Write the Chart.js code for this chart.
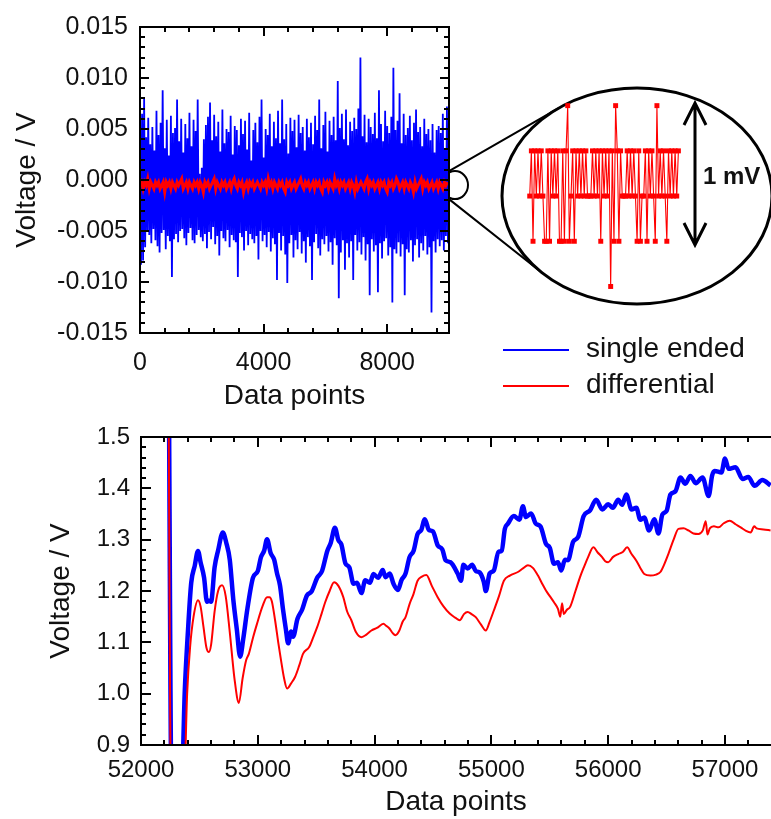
<!DOCTYPE html>
<html lang="en">
<head>
<meta charset="UTF-8">
<title>Single ended vs differential</title>
<style>
  html, body { margin: 0; padding: 0; background: #fff; }
  body { position: relative; width: 771px; height: 819px; overflow: hidden; font-family: "Liberation Sans", Arial, sans-serif; color: #111; }
  canvas { position: absolute; }
  #noiseChart { left: 0; top: 0; }
  #insetChart { left: 520px; top: 90px; }
  #driftChart { left: 0; top: 410px; }
  .key { position: absolute; left: 503px; height: 34px; line-height: 34px; font-size: 28px; white-space: nowrap; }
  .key span { display: inline-block; width: 66px; height: 2px; margin-right: 17px; vertical-align: middle; }
  #mv { position: absolute; left: 703px; top: 161px; line-height: 30px; font-size: 24px; font-weight: bold; }
</style>
<script src="https://cdn.jsdelivr.net/npm/chart.js"></script>
</head>
<body>
<canvas id="noiseChart" width="771" height="410"></canvas>
<canvas id="insetChart" width="170" height="215"></canvas>
<canvas id="driftChart" width="771" height="409"></canvas>
<div id="mv">1 mV</div>

<script>
  Chart.defaults.font.family = '"Liberation Sans", Arial, sans-serif';
  Chart.defaults.color = '#111';

  const seriesNames = ['single ended', 'differential'];
  const seriesColors = ['#0000ff', '#ff0000'];

  // top panel: baseline noise over 10000 samples (values in mV)
  const noiseSe = [
    5.8,-8.3,6.5,-7.9,8.0,-6.6,4.2,-5.1,6.1,-5.4,
    3.5,-6.2,5.2,-4.8,2.9,-5.9,6.8,-6.5,4.4,-7.1,
    5.6,-5.2,8.8,-4.9,3.1,-6.8,5.9,-5.5,2.4,-6.0,
    6.3,-9.5,4.6,-5.8,5.1,-5.3,7.9,-6.1,3.8,-5.0,
    6.0,-4.8,2.7,-5.7,5.5,-6.4,4.1,-5.2,6.6,-4.7,
    3.3,-5.9,5.9,-6.2,4.8,-5.4,7.9,-4.9,0.6,-5.6,
    1.2,-6.0,4.0,-5.3,5.4,-6.7,6.2,-5.1,7.6,-5.8,
    3.9,-4.6,6.4,-6.3,4.3,-5.5,5.7,-7.4,2.8,-5.0,
    6.9,-5.7,3.6,-6.0,5.0,-4.9,4.7,-6.6,6.3,-5.4,
    2.5,-5.9,5.3,-6.1,4.9,-9.5,3.4,-5.2,6.0,-5.6,
    4.5,-6.9,5.8,-5.0,3.0,-6.4,6.6,-5.3,1.9,-5.8,
    4.9,-6.2,5.6,-5.5,3.7,-7.8,6.2,-5.0,7.9,-6.0,
    2.2,-5.4,5.0,-6.6,4.4,-5.1,6.5,-7.0,3.3,-5.7,
    5.7,-6.3,4.1,-9.8,6.8,-5.2,3.6,-6.9,7.9,-5.5,
    4.0,-7.3,5.5,-10.1,2.6,-6.2,6.1,-5.4,4.8,-7.6,
    5.9,-5.9,3.2,-6.8,6.4,-5.1,4.6,-7.2,5.2,-6.0,
    2.9,-8.1,6.0,-5.6,4.2,-6.5,5.6,-9.8,3.5,-6.1,
    6.3,-5.3,4.9,-6.7,7.9,-7.4,3.1,-5.8,5.4,-6.3,
    6.7,-5.5,2.8,-7.0,5.8,-6.1,4.4,-8.3,6.2,-5.7,
    3.9,-6.4,9.7,-11.6,5.1,-7.1,6.5,-5.9,4.0,-8.8,
    6.9,-6.2,3.4,-7.6,5.7,-6.0,4.8,-9.8,6.1,-5.4,
    5.0,-6.9,7.0,-6.1,12.0,-7.3,4.3,-5.6,6.4,-7.9,
    3.7,-6.3,6.0,-11.3,5.2,-5.8,4.5,-7.0,6.6,-6.4,
    4.1,-11.0,8.8,-6.2,5.5,-7.7,3.8,-6.0,6.8,-5.7,
    5.3,-7.4,4.6,-6.6,6.2,-12.0,11.0,-6.8,4.9,-7.2,
    5.8,-6.1,8.5,-7.5,3.6,-6.3,6.5,-11.3,4.4,-6.8,
    5.1,-7.1,6.3,-5.9,3.9,-8.0,5.6,-6.4,6.9,-5.8,
    4.7,-7.6,5.2,-6.2,3.3,-6.9,6.0,-5.5,4.5,-7.3,
    5.0,-6.6,3.9,-13.0,5.5,-6.0,2.7,-7.1,4.9,-5.8,
    5.3,-6.5,4.6,-5.9,6.5,-6.9,3.0,-5.5,7.2,-6.2
  ];
  const noiseDiff = [
    -0.53,-0.2,-0.86,-0.2,-0.53,0.13,-0.86,-0.2,-0.53,-0.86,
    -0.2,-0.53,-0.2,-0.86,-0.53,-0.2,-1.19,-0.2,-0.53,-0.2,
    -0.86,-0.2,-0.53,-0.86,-0.2,-0.53,-0.2,0.13,-0.86,-0.53,
    -0.2,-0.86,-0.2,-0.53,-0.86,-0.2,-0.53,-0.2,-0.86,-0.2,
    -0.53,-1.19,-0.2,-0.53,-0.2,-0.86,-0.53,-0.2,0.13,-0.86,
    -0.2,-0.53,-0.86,-0.2,-0.53,-0.2,-0.86,-0.53,-0.2,-0.86,
    -0.2,0.13,-0.53,-0.86,-0.2,-0.53,-0.2,-1.19,-0.53,-0.2,
    -0.86,-0.2,-0.53,-0.2,-0.86,-0.53,-0.2,-0.53,-0.86,-0.2,
    -0.53,-0.2,-0.86,0.13,-0.53,-0.2,-0.86,-0.2,-0.53,-0.86,
    -0.2,-0.53,-0.2,-0.86,-1.19,-0.2,-0.53,-0.2,-0.86,-0.53,
    -0.2,-0.86,-0.53,-0.2,0.13,-0.53,-0.86,-0.2,-0.53,-0.2,
    -0.86,-0.53,-0.2,-0.86,-0.2,-0.53,-0.2,-0.86,-1.19,-0.2,
    -0.53,-0.2,-0.86,-0.2,-0.53,-0.86,0.13,-0.53,-0.2,-0.86,
    -0.2,-0.53,-0.2,-0.86,-0.53,-0.2,-0.86,-0.2,-0.53,-1.19,
    -0.2,-0.86,-0.53,-0.2,-0.53,-0.86,-0.2,0.13,-0.86,-0.2,
    -0.53,-0.2,-0.86,-0.53,-0.2,-0.86,-0.2,-0.53,-0.2,-0.86,
    -1.19,-0.2,-0.53,-0.2,-0.86,-0.53,0.13,-0.2,-0.86,-0.53,
    -0.2,-0.86,-0.2,-0.53,-0.86,-0.2,-0.53,-1.19,-0.2,-0.86,
    -0.53,-0.2,0.13,-0.86,-0.2,-0.53,-0.2,-0.86,-0.53,-0.2,
    -0.86,-0.53,-0.2,-0.86,-0.2,-0.53,-0.86,-0.2,-0.53,-0.2
  ];
  const noiseSamples = 10000;
  const noiseXTicks = [0, 4000, 8000];
  const noiseXLabels = ['0', '4000', '8000'];
  const noiseYTicks = [-15, -10, -5, 0, 5, 10, 15];
  const noiseYLabels = ['-0.015', '-0.010', '-0.005', '0.000', '0.005', '0.010', '0.015'];

  // magnified stretch at the end of the differential trace (mV)
  const insetMv = [
    -0.53,-0.2,-0.86,-0.2,-0.53,-0.2,-0.53,-0.2,-0.53,-0.86,
    -0.86,-0.2,-0.86,-0.2,-0.53,-0.2,-0.53,-0.2,-0.86,-0.86,
    -0.2,-0.86,-0.2,0.13,-0.86,-0.53,-0.2,-0.86,-0.2,-0.53,
    -0.2,-0.53,-0.2,-0.53,-0.2,-0.53,-0.53,-0.53,-0.2,-0.53,
    -0.2,-0.53,-0.2,-0.86,-0.2,-0.53,-0.2,-0.53,-0.2,-1.19,
    -0.2,-0.86,0.13,-0.2,-0.86,-0.2,-0.53,-0.53,-0.53,-0.2,
    -0.53,-0.2,-0.53,-0.2,-0.53,-0.86,-0.2,-0.86,-0.53,-0.53,
    -0.2,-0.86,-0.2,-0.53,-0.2,-0.53,-0.86,0.13,-0.53,-0.2,
    -0.53,-0.2,-0.53,-0.86,-0.2,-0.53,-0.2,-0.53,-0.2,-0.53,
    -0.2
  ];

  // bottom panel: drift after start-up (V)
  const driftSeX = [
    52238,52262,52345,52375,52400,52430,52460,52488,52510,52540,
    52565,52581,52600,52630,52660,52701,52730,52760,52790,52820,
    52849,52875,52910,52959,53000,53027,53055,53079,53110,53140,
    53165,53190,53216,53240,53260,53285,53302,53340,53380,53420,
    53460,53509,53550,53595,53625,53660,53690,53715,53750,53784,
    53820,53850,53887,53920,53960,53990,54030,54070,54093,54130,
    54162,54200,54230,54265,54299,54335,54368,54400,54430,54465,
    54500,54540,54580,54608,54650,54711,54740,54760,54797,54835,
    54866,54900,54935,54952,54985,55021,55060,55089,55115,55141,
    55192,55240,55270,55296,55340,55381,55420,55467,55500,55536,
    55570,55598,55630,55656,55700,55742,55790,55845,55897,55950,
    56000,56040,56086,56120,56155,56200,56241,56275,56309,56350,
    56395,56430,56464,56500,56533,56575,56619,56660,56704,56750,
    56808,56860,56890,56911,56970,57000,57031,57090,57151,57200,
    57254,57320,57390
  ];
  const driftSeV = [
    1.62,0.80,0.80,1.006,1.114,1.216,1.249,1.278,1.256,1.226,
    1.179,1.181,1.179,1.246,1.279,1.314,1.294,1.261,1.184,1.126,
    1.072,1.106,1.164,1.226,1.239,1.266,1.279,1.301,1.274,1.261,
    1.234,1.211,1.164,1.126,1.098,1.121,1.111,1.146,1.164,1.191,
    1.199,1.226,1.239,1.278,1.294,1.323,1.299,1.291,1.254,1.246,
    1.214,1.216,1.196,1.221,1.216,1.233,1.226,1.241,1.227,1.234,
    1.214,1.202,1.221,1.234,1.266,1.279,1.311,1.319,1.340,1.319,
    1.316,1.289,1.281,1.260,1.256,1.234,1.220,1.251,1.244,1.251,
    1.239,1.236,1.218,1.200,1.234,1.240,1.276,1.279,1.321,1.331,
    1.346,1.339,1.365,1.344,1.351,1.331,1.326,1.292,1.284,1.253,
    1.256,1.240,1.261,1.260,1.296,1.305,1.346,1.357,1.378,1.359,
    1.369,1.362,1.378,1.368,1.388,1.359,1.362,1.339,1.343,1.318,
    1.340,1.312,1.349,1.356,1.388,1.394,1.421,1.409,1.424,1.410,
    1.421,1.385,1.425,1.434,1.431,1.458,1.438,1.441,1.418,1.422,
    1.405,1.416,1.406
  ];
  const driftDiffX = [
    52235,52258,52365,52395,52420,52450,52488,52510,52535,52560,
    52581,52600,52630,52660,52694,52725,52760,52800,52838,52870,
    52900,52924,52960,52993,53040,53079,53100,53120,53148,53175,
    53199,53225,53251,53285,53320,53355,53388,53440,53475,53509,
    53545,53577,53615,53653,53690,53732,53765,53801,53840,53887,
    53930,53973,54020,54076,54100,54127,54155,54179,54210,54240,
    54265,54300,54333,54368,54405,54443,54490,54540,54590,54643,
    54690,54729,54765,54797,54830,54866,54910,54952,54985,55021,
    55065,55107,55158,55227,55270,55313,55355,55399,55440,55467,
    55500,55536,55570,55590,55605,55620,55645,55674,55720,55759,
    55795,55828,55873,55910,55948,55975,56000,56040,56086,56125,
    56162,56200,56241,56275,56309,56361,56410,56447,56480,56515,
    56560,56601,56645,56687,56730,56773,56810,56835,56850,56870,
    56905,56945,56990,57041,57090,57134,57180,57220,57250,57271,
    57330,57390
  ];
  const driftDiffV = [
    1.62,0.80,0.80,1.00,1.09,1.15,1.182,1.17,1.13,1.09,
    1.081,1.095,1.16,1.20,1.211,1.19,1.12,1.03,0.982,1.03,
    1.065,1.078,1.11,1.136,1.17,1.188,1.188,1.18,1.143,1.10,
    1.065,1.03,1.010,1.02,1.033,1.055,1.078,1.091,1.11,1.130,
    1.155,1.178,1.20,1.217,1.21,1.188,1.16,1.143,1.12,1.110,
    1.115,1.123,1.128,1.136,1.132,1.127,1.118,1.114,1.122,1.14,
    1.149,1.175,1.194,1.220,1.228,1.231,1.21,1.188,1.17,1.156,
    1.148,1.143,1.155,1.159,1.155,1.149,1.135,1.123,1.14,1.162,
    1.19,1.220,1.230,1.237,1.244,1.250,1.245,1.230,1.212,1.201,
    1.19,1.178,1.165,1.150,1.176,1.155,1.163,1.169,1.20,1.227,
    1.248,1.266,1.285,1.275,1.266,1.258,1.256,1.266,1.272,1.276,
    1.285,1.272,1.259,1.245,1.233,1.230,1.232,1.237,1.252,1.272,
    1.30,1.321,1.322,1.318,1.312,1.311,1.318,1.336,1.31,1.322,
    1.326,1.324,1.332,1.337,1.330,1.324,1.317,1.314,1.326,1.322,
    1.320,1.318
  ];
  const driftXTicks = [52000, 53000, 54000, 55000, 56000, 57000];
  const driftXLabels = ['52000', '53000', '54000', '55000', '56000', '57000'];
  const driftYTicks = [0.9, 1.0, 1.1, 1.2, 1.3, 1.4, 1.5];
  const driftYLabels = ['0.9', '1.0', '1.1', '1.2', '1.3', '1.4', '1.5'];

  // minor tick positions
  function every(from, to, step) {
    const out = [];
    for (let v = from; v <= to + 1e-9; v += step) out.push(+v.toFixed(4));
    return out;
  }

  const indexPoints = (ys, total) => ys.map((y, i) => ({ x: i * total / ys.length, y }));
  const pairPoints = (xs, ys) => xs.map((x, i) => ({ x, y: ys[i] }));

  function axis(o) {
    return {
      type: 'linear',
      min: o.min,
      max: o.max,
      grid: { display: false, drawTicks: false },
      border: { display: false },
      afterBuildTicks: s => { s.ticks = o.ticks.map(v => ({ value: v })); },
      afterFit: s => {
        if (o.width) s.width = o.width;
        if (o.height) s.height = o.height;
      },
      ticks: {
        autoSkip: false, maxRotation: 0, padding: o.pad,
        font: { size: o.tickSize }, color: '#111',
        callback: (v, i) => o.labels[i]
      },
      title: {
        display: true, text: o.title, color: '#111',
        font: { size: 28, lineHeight: 1 }, padding: o.titlePad
      }
    };
  }

  // box with inward ticks, painted after everything else
  function framePlugin(o) {
    return {
      id: 'boxTicks',
      afterDraw(chart) {
        const ctx = chart.ctx;
        const a = chart.chartArea;
        const xs = chart.scales.x, ys = chart.scales.y;
        const L = Math.round(a.left), T = Math.round(a.top), B = Math.round(a.bottom);
        const R = o.right ? Math.round(a.right) : chart.width + 4;
        const xPix = v => a.left + (v - xs.min) / (xs.max - xs.min) * (a.right - a.left);
        const yPix = v => a.bottom - (v - ys.min) / (ys.max - ys.min) * (a.bottom - a.top);
        ctx.save();
        ctx.fillStyle = '#000000';
        const rects = [];
        for (const [list, len] of [[o.xMinor, o.minor], [o.xMajor, o.major]]) {
          for (let i = 0; i < list.length; i++) {
            const p = Math.round(xPix(list[i]));
            if (p < L - 1 || p > R + 1) continue;
            rects.push([p - 1, B - len, 2, len], [p - 1, T, 2, len]);
          }
        }
        for (const [list, len] of [[o.yMinor, o.minor], [o.yMajor, o.major]]) {
          for (let i = 0; i < list.length; i++) {
            const p = Math.round(yPix(list[i]));
            rects.push([L, p - 1, len, 2]);
            if (o.right) rects.push([R - len, p - 1, len, 2]);
          }
        }
        rects.push([L - 1, T - 1, R - L + 2, 2], [L - 1, B - 1, R - L + 2, 2], [L - 1, T - 1, 2, B - T + 2]);
        if (o.right) rects.push([R - 1, T - 1, 2, B - T + 2]);
        rects.forEach(r => ctx.fillRect(r[0], r[1], r[2], r[3]));
        ctx.restore();
      }
    };
  }

  // magnifier: small ellipse on the trace, big ellipse, joining lines, 1 mV arrow
  const bigEllipse = { x: 637, y: 196, rx: 135, ry: 108 };

  function tangentPoint(e, px, py, upper) {
    const u = (px - e.x) / e.rx, v = (py - e.y) / e.ry;
    const d = Math.hypot(u, v), ang = Math.atan2(v, u), b = Math.acos(1 / d);
    const pts = [ang + b, ang - b].map(t => ({ x: e.x + e.rx * Math.cos(t), y: e.y + e.ry * Math.sin(t) }));
    pts.sort((p, q) => p.y - q.y);
    return upper ? pts[0] : pts[1];
  }

  const zoomDecor = {
    id: 'zoomDecor',
    beforeDatasetsDraw(chart) {
      const { ctx, chartArea: a, scales: { y } } = chart;
      const cy = y.getPixelForValue(-0.5);
      ctx.save();
      ctx.strokeStyle = '#000';
      ctx.lineWidth = 2;
      ctx.beginPath();
      ctx.ellipse(a.right + 6, cy, 13, 14, 0, 0, Math.PI * 2);
      ctx.stroke();
      ctx.restore();
    },
    afterDraw(chart) {
      const { ctx, chartArea: a, scales: { y } } = chart;
      const cy = y.getPixelForValue(-0.5);
      const e = bigEllipse;
      ctx.save();
      ctx.strokeStyle = '#000';
      ctx.lineWidth = 3;
      ctx.beginPath();
      ctx.ellipse(e.x, e.y, e.rx, e.ry, 0, 0, Math.PI * 2);
      ctx.stroke();

      ctx.lineWidth = 2;
      ctx.beginPath();
      const p1 = { x: a.right, y: cy - 14 }, p2 = { x: a.right, y: cy + 14 };
      const t1 = tangentPoint(e, p1.x, p1.y, true), t2 = tangentPoint(e, p2.x, p2.y, false);
      ctx.moveTo(p1.x, p1.y); ctx.lineTo(t1.x, t1.y);
      ctx.moveTo(p2.x, p2.y); ctx.lineTo(t2.x, t2.y);
      ctx.stroke();

      const ax = 695, top = 103, bot = 245;
      ctx.lineWidth = 3;
      ctx.beginPath();
      ctx.moveTo(ax, top); ctx.lineTo(ax, bot);
      ctx.moveTo(ax - 11, top + 22); ctx.lineTo(ax, top); ctx.lineTo(ax + 11, top + 22);
      ctx.moveTo(ax - 11, bot - 22); ctx.lineTo(ax, bot); ctx.lineTo(ax + 11, bot - 22);
      ctx.stroke();
      ctx.restore();
    }
  };

  const quiet = () => ({ legend: { display: false }, tooltip: { enabled: false } });

  new Chart(document.getElementById('noiseChart'), {
    type: 'line',
    data: {
      datasets: [
        { label: seriesNames[0], data: indexPoints(noiseSe, noiseSamples), borderColor: seriesColors[0], borderWidth: 1.8, order: 1 },
        { label: seriesNames[1], data: indexPoints(noiseDiff, noiseSamples), borderColor: seriesColors[1], borderWidth: 3, order: 0 }
      ]
    },
    options: {
      responsive: false, animation: false, events: [],
      layout: { padding: { top: 25, right: 322, left: 0, bottom: 0 } },
      elements: { point: { radius: 0 }, line: { tension: 0 } },
      scales: {
        x: axis({ min: 0, max: noiseSamples, ticks: noiseXTicks, labels: noiseXLabels, tickSize: 25, pad: 15,
                  title: 'Data points', titlePad: { top: 0, bottom: 0 }, height: 77 }),
        y: axis({ min: -15, max: 15, ticks: noiseYTicks, labels: noiseYLabels, tickSize: 25, pad: 12,
                  title: 'Voltage / V', titlePad: { top: 13, bottom: 0 }, width: 140 })
      },
      plugins: quiet()
    },
    plugins: [
      zoomDecor,
      framePlugin({ xMajor: noiseXTicks, xMinor: every(0, 10000, 800), yMajor: noiseYTicks, yMinor: every(-15, 15, 1),
                    major: 9, minor: 5, right: true })
    ]
  });

  new Chart(document.getElementById('insetChart'), {
    type: 'line',
    data: {
      datasets: [{
        label: seriesNames[1],
        data: insetMv.map((y, i) => ({ x: i, y })),
        borderColor: seriesColors[1], borderWidth: 1.1, tension: 0,
        pointStyle: 'rect', pointRadius: 3.5, pointBorderWidth: 0,
        pointBackgroundColor: seriesColors[1], clip: false
      }]
    },
    options: {
      responsive: false, animation: false, events: [],
      layout: { padding: 0 },
      scales: {
        x: { type: 'linear', display: false, min: -3.46, max: 94.6 },
        y: { type: 'linear', display: false, min: -1.296, max: 0.215 }
      },
      plugins: quiet()
    }
  });

  new Chart(document.getElementById('driftChart'), {
    type: 'line',
    data: {
      datasets: [
        { label: seriesNames[0], data: pairPoints(driftSeX, driftSeV), borderColor: seriesColors[0], borderWidth: 4.5, order: 1 },
        { label: seriesNames[1], data: pairPoints(driftDiffX, driftDiffV), borderColor: seriesColors[1], borderWidth: 2, order: 0 }
      ]
    },
    options: {
      responsive: false, animation: false, events: [],
      layout: { padding: { top: 27, right: 0, left: 0, bottom: 0 } },
      elements: { point: { radius: 0 }, line: { cubicInterpolationMode: 'monotone', borderJoinStyle: 'round' } },
      scales: {
        x: axis({ min: 52000, max: 57394, ticks: driftXTicks, labels: driftXLabels, tickSize: 24, pad: 11,
                  title: 'Data points', titlePad: { top: 0, bottom: 3 }, height: 74 }),
        y: axis({ min: 0.9, max: 1.5, ticks: driftYTicks, labels: driftYLabels, tickSize: 24, pad: 11,
                  title: 'Voltage / V', titlePad: { top: 47, bottom: 0 }, width: 141 })
      },
      plugins: quiet()
    },
    plugins: [
      framePlugin({ xMajor: driftXTicks, xMinor: every(52000, 57400, 200), yMajor: driftYTicks, yMinor: every(0.9, 1.5, 0.02),
                    major: 10, minor: 5, right: false })
    ]
  });

  // legend for both panels
  seriesNames.forEach((name, i) => {
    const row = document.createElement('div');
    row.className = 'key';
    row.style.top = (331 + i * 36) + 'px';
    const swatch = document.createElement('span');
    swatch.style.background = seriesColors[i];
    row.append(swatch, name);
    document.body.append(row);
  });
</script>
</body>
</html>
